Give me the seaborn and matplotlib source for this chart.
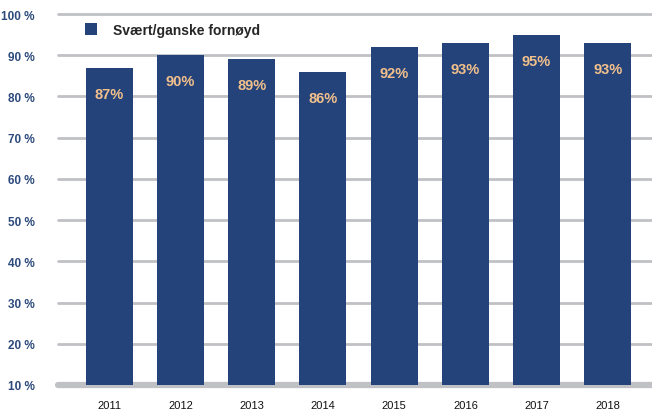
import matplotlib
matplotlib.use("Agg")
import matplotlib.pyplot as plt
import pandas as pd
import seaborn as sns

# Values
years = ["2011", "2012", "2013", "2014", "2015", "2016", "2017", "2018"]
satisfied = [87, 90, 89, 86, 92, 93, 95, 93]
y_ticks = [10, 20, 30, 40, 50, 60, 70, 80, 90, 100]
series_name = "Svært/ganske fornøyd"

bar_color = "#23437a"
label_color = "#f3c08c"
grid_color = "#c0c1c5"

df = pd.DataFrame({"year": years, "value": satisfied})

sns.set_theme(style="white")
plt.rcParams["font.family"] = ["Liberation Sans", "DejaVu Sans"]

fig = plt.figure(figsize=(6.52, 4.14), dpi=100)
ax = fig.add_axes([58 / 652, 28 / 414, 594 / 652, 371 / 414])

# gridlines behind the bars
for t in y_ticks:
    lw = 4.5 if t == 10 else 2.0
    ax.axhline(t, color=grid_color, lw=lw, zorder=0, clip_on=False)

sns.barplot(data=df, x="year", y="value", color=bar_color, width=0.66,
            saturation=1, ax=ax, zorder=2, label=series_name,
            edgecolor="none", linewidth=0)

for i, v in enumerate(satisfied):
    ax.text(i, v - 6.3, f"{v}%", ha="center", va="center", color=label_color,
            fontsize=10.5, fontweight="bold", zorder=3)

ax.set_ylim(10, 100)
ax.set_xlim(-0.72, 7.62)
ax.set_yticks(y_ticks)
ax.set_yticklabels([f"{t} %" for t in y_ticks], fontsize=8.5, fontweight="bold",
                   color="#2c4a7c")
ax.tick_params(axis="y", length=0, pad=17)
ax.tick_params(axis="x", length=0, pad=11, labelsize=8, labelcolor="#111111")
ax.set_xlabel("")
ax.set_ylabel("")
for s in ax.spines.values():
    s.set_visible(False)

leg = ax.legend(loc="upper left", bbox_to_anchor=(0.025, 1.01), frameon=False,
                handlelength=0.86, handleheight=0.92, handletextpad=1.1,
                prop={"weight": "bold", "size": 10})

fig.savefig("out.png", dpi=100)
